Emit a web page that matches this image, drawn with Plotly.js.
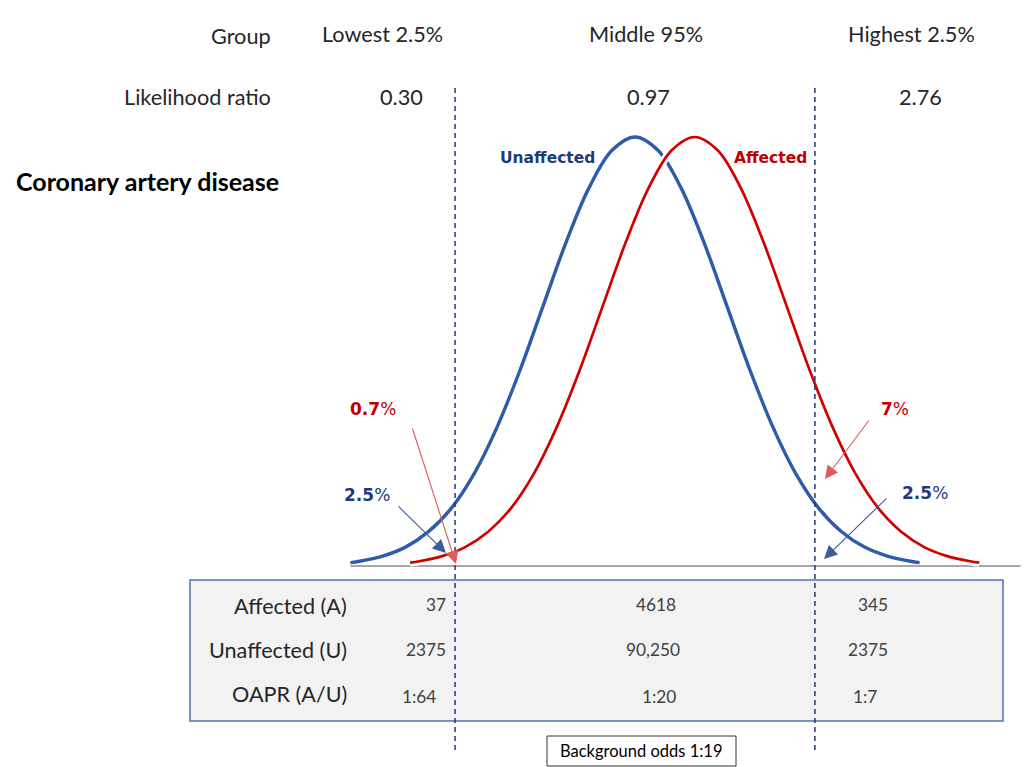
<!DOCTYPE html>
<html><head><meta charset="utf-8">
<script src="https://cdn.plot.ly/plotly-3.0.1.min.js"></script>
<style>html,body{margin:0;padding:0;background:#fff}#c{width:1024px;height:767px}</style>
</head><body><div id="c"></div>
<script>
// Score in SD units of the unaffected distribution; density relative to peak
const unaffectedX = [-3.1,-3,-2.75,-2.5,-2.25,-2,-1.75,-1.5,-1.25,-1,-0.75,-0.5,-0.25,0,0.25,0.5,0.75,1,1.25,1.5,1.75,2,2.25,2.5,2.75,3,3.1];
const affectedX   = [-2.45,-2.35,-2.1,-1.85,-1.6,-1.35,-1.1,-0.85,-0.6,-0.35,-0.1,0.15,0.4,0.65,0.9,1.15,1.4,1.65,1.9,2.15,2.4,2.65,2.9,3.15,3.4,3.65,3.75];
const density     = [0.008,0.011,0.023,0.044,0.080,0.135,0.216,0.325,0.458,0.607,0.755,0.882,0.969,1.0,0.969,0.882,0.755,0.607,0.458,0.325,0.216,0.135,0.080,0.044,0.023,0.011,0.008];
const cutoffs = [-1.96, 1.96];
const groups = ["Lowest 2.5%", "Middle 95%", "Highest 2.5%"];
const likelihoodRatios = ["0.30", "0.97", "2.76"];
const rowLabels = ["Affected (A)", "Unaffected (U)", "OAPR (A/U)"];
const affectedCounts = ["37", "4618", "345"];
const unaffectedCounts = ["2375", "90,250", "2375"];
const oapr = ["1:64", "1:20", "1:7"];
const tailPercents = {unaffLow:"2.5%", affLow:"0.7%", affHigh:"7%", unaffHigh:"2.5%"};
const backgroundOdds = "Background odds 1:19";

const W = 1024, H = 767;
const px = x => x / W, py = y => 1 - y / H;
const FONT = "Lato, 'Open Sans', sans-serif";
const BFONT = "'DejaVu Sans', Verdana, sans-serif";
const BLUE = "#2F5CA8", RED = "#D00000", DBLUE = "#1F3A7A";

const traces = [
  {x: unaffectedX, y: density, mode: "lines", line: {color: BLUE, width: 3.4, shape: "spline", smoothing: 1}, hoverinfo: "skip"},
  {x: affectedX, y: density, mode: "lines", line: {color: "#ffffff", width: 8, shape: "spline", smoothing: 1}, hoverinfo: "skip"},
  {x: affectedX, y: density, mode: "lines", line: {color: RED, width: 2.7, shape: "spline", smoothing: 1}, hoverinfo: "skip"}
];

const shapes = [
  {type: "rect", xref: "paper", yref: "paper", x0: px(190), x1: px(1003), y0: py(580), y1: py(721),
   fillcolor: "#F2F2F2", line: {color: "#4F72B0", width: 1.5}, layer: "below"},
  {type: "line", xref: "x", yref: "y", x0: -3.1, x1: 4.2, y0: 0, y1: 0, line: {color: "#888", width: 1.3}, layer: "below"},
  {type: "rect", xref: "paper", yref: "paper", x0: px(547), x1: px(736), y0: py(736), y1: py(766),
   fillcolor: "#ffffff", line: {color: "#333", width: 1}}
];
cutoffs.forEach(c => shapes.push({type: "line", xref: "x", yref: "paper", x0: c, x1: c, y0: py(88), y1: py(750),
  line: {color: DBLUE, width: 1.5, dash: "5px,4px"}}));

const ann = [];
function txt(text, x, y, size, opts) {
  ann.push(Object.assign({text: text, x: px(x), y: py(y), xref: "paper", yref: "paper", showarrow: false,
    xanchor: "center", yanchor: "middle", font: {family: FONT, size: size, color: "#262626"}}, opts || {}));
}
const HS = 21.7;
txt("Group", 273, 36, HS, {xanchor: "right"});
txt("Likelihood ratio", 273, 97, HS, {xanchor: "right"});
const groupX = [382, 646, 911], lrX = [401, 648, 920];
groups.forEach((g, i) => txt(g, groupX[i], 34, HS));
likelihoodRatios.forEach((v, i) => txt(v, lrX[i], 97, HS));
txt("<b>Coronary artery disease</b>", 14, 181, 25, {xanchor: "left", font: {family: FONT, size: 25, color: "#000"}});
txt("<b>Unaffected</b>", 547, 158, 15.5, {font: {family: BFONT, size: 15.5, color: DBLUE}});
txt("<b>Affected</b>", 770, 158, 15.5, {font: {family: BFONT, size: 15.5, color: "#C00000"}});

const rowY = [606, 650, 694];
rowLabels.forEach((l, i) => txt(l, 349, rowY[i], 21.6, {xanchor: "right"}));
const VS = 17.3, VC = "#404040";
const valY = [604, 649, 696];
const midX = [656, 653, 659], hiX = [873, 868, 865];
[affectedCounts, unaffectedCounts, oapr].forEach((row, i) => {
  const f = {family: FONT, size: VS, color: VC};
  if (i < 2) txt(row[0], 448, valY[i], VS, {xanchor: "right", font: f});
  else txt(row[0], 419, valY[i], VS, {font: f});
  txt(row[1], midX[i], valY[i], VS, {font: f});
  txt(row[2], hiX[i], valY[i], VS, {font: f});
});
txt(backgroundOdds, 641, 751, 16.5, {font: {family: FONT, size: 16.5, color: "#000"}});

function pct(label, x, y, color) {
  const m = label.match(/^(.*)(%)$/);
  txt("<b>" + m[1] + "</b>" + m[2], x, y, 17, {font: {family: BFONT, size: 17, color: color}});
}
pct(tailPercents.affLow, 373, 409, "#C00000");
pct(tailPercents.affHigh, 895, 409, "#C00000");
pct(tailPercents.unaffLow, 367, 495, DBLUE);
pct(tailPercents.unaffHigh, 925, 493, DBLUE);

function arrow(hx, hy, ax, ay, color) {
  ann.push({x: px(hx), y: py(hy), xref: "paper", yref: "paper", ax: ax, ay: ay, axref: "pixel", ayref: "pixel",
    text: "", showarrow: true, arrowhead: 2, arrowsize: 2.4, arrowwidth: 1.1, arrowcolor: color, standoff: 0});
}
arrow(456, 564, -44, -137, "#E05A5A");
arrow(446, 553, -49, -48, "#3F5C98");
arrow(825, 479, 45, -60, "#E05A5A");
arrow(824, 559, 64, -62, "#3F5C98");

const layout = {
  width: W, height: H, margin: {l: 0, r: 0, t: 0, b: 0},
  paper_bgcolor: "#fff", plot_bgcolor: "rgba(0,0,0,0)", showlegend: false,
  xaxis: {range: [-635 / 91.8, (W - 635) / 91.8], visible: false, fixedrange: true},
  yaxis: {range: [(566 - H) / 429, 566 / 429], visible: false, fixedrange: true},
  shapes: shapes, annotations: ann
};
Plotly.newPlot("c", traces, layout, {staticPlot: true, displayModeBar: false});
</script></body></html>
